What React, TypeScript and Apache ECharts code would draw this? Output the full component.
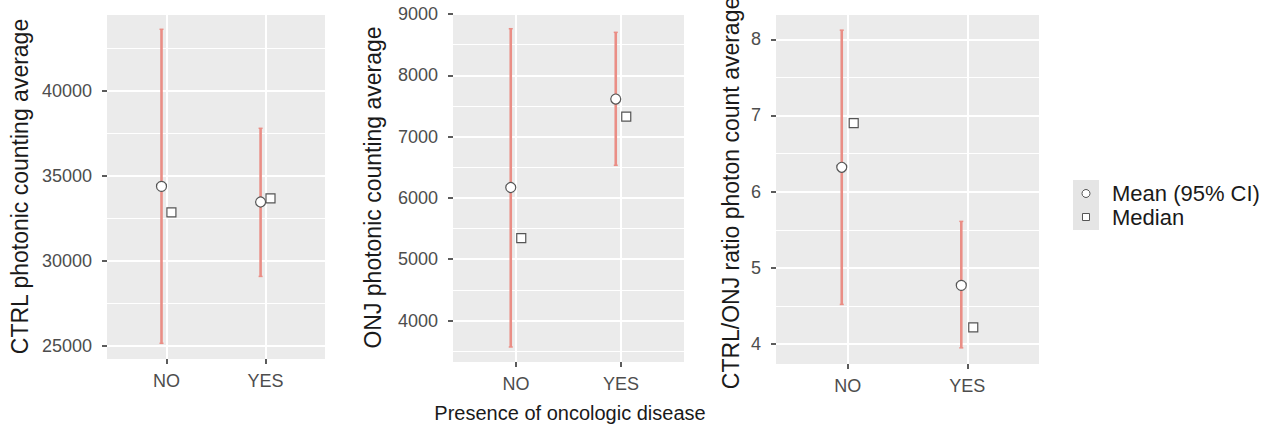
import React, { useEffect, useRef } from "react";
import * as echarts from "echarts";

// ---------- data ----------
const categories = ["NO", "YES"];

const ctrlMean = [34371, 33453];
const ctrlMedian = [32841, 33665];
const ctrlLow = [25141, 29076];
const ctrlHigh = [43612, 37788];
const ctrlTicks = [25000, 30000, 35000, 40000];
const ctrlMinor = [27500, 32500, 37500, 42500];
const ctrlRange = [24218, 44453];

const onjMean = [6170, 7613];
const onjMedian = [5343, 7325];
const onjLow = [3569, 6532];
const onjHigh = [8760, 8701];
const onjTicks = [4000, 5000, 6000, 7000, 8000, 9000];
const onjMinor = [3500, 4500, 5500, 6500, 7500, 8500];
const onjRange = [3324, 9000];

const ratioMean = [6.32, 4.77];
const ratioMedian = [6.9, 4.22];
const ratioLow = [4.52, 3.95];
const ratioHigh = [8.12, 5.61];
const ratioTicks = [4, 5, 6, 7, 8];
const ratioMinor = [4.5, 5.5, 6.5, 7.5];
const ratioRange = [3.738, 8.319];

const yTitles = [
  "CTRL photonic counting average",
  "ONJ photonic counting average",
  "CTRL/ONJ ratio photon count average",
];
const xTitle = "Presence of oncologic disease";
const legendLabels = ["Mean (95% CI)", "Median"];

// ---------- style ----------
const FONT = "Liberation Sans, Arial, Helvetica, sans-serif";
const ERR = "#EA8E86";
const PANEL_BG = "#EBEBEB";
const TICK_COLOR = "#4D4D4D";
const MEAN_DODGE = -0.05;
const MEDIAN_DODGE = 0.05;

const panels = [
  { left: 107, top: 15, width: 218, height: 344, mean: ctrlMean, median: ctrlMedian, low: ctrlLow, high: ctrlHigh, ticks: ctrlTicks, minor: ctrlMinor, range: ctrlRange },
  { left: 453, top: 14, width: 231, height: 348, mean: onjMean, median: onjMedian, low: onjLow, high: onjHigh, ticks: onjTicks, minor: onjMinor, range: onjRange },
  { left: 776, top: 15, width: 263, height: 349, mean: ratioMean, median: ratioMedian, low: ratioLow, high: ratioHigh, ticks: ratioTicks, minor: ratioMinor, range: ratioRange },
];

const catPositions = categories.map((_, i) => i + 1);

function buildOption() {
  const grid: any[] = [];
  const xAxis: any[] = [];
  const yAxis: any[] = [];
  const series: any[] = [];

  panels.forEach((p, idx) => {
    grid.push({
      left: p.left,
      top: p.top,
      width: p.width,
      height: p.height,
      show: true,
      backgroundColor: PANEL_BG,
      borderWidth: 0,
    });
    xAxis.push({
      type: "value",
      gridIndex: idx,
      min: 0.4,
      max: categories.length + 0.6,
      axisLine: { show: false },
      splitLine: { show: false },
      axisTick: {
        show: true,
        customValues: catPositions,
        length: 5,
        lineStyle: { color: "#333", width: 1.6 },
      },
      axisLabel: {
        show: true,
        customValues: catPositions,
        formatter: (v: number) => categories[Math.round(v) - 1] ?? "",
        color: TICK_COLOR,
        fontSize: 18,
        fontFamily: FONT,
        margin: 13,
      },
    });
    yAxis.push({
      type: "value",
      gridIndex: idx,
      min: p.range[0],
      max: p.range[1],
      axisLine: { show: false },
      splitLine: { show: false },
      axisTick: {
        show: true,
        customValues: p.ticks,
        length: 5,
        lineStyle: { color: "#333", width: 1.6 },
      },
      axisLabel: {
        show: true,
        customValues: p.ticks,
        formatter: (v: number) => String(v),
        color: TICK_COLOR,
        fontSize: 18,
        fontFamily: FONT,
        margin: 15,
      },
    });

    // grid lines
    series.push({
      type: "scatter",
      xAxisIndex: idx,
      yAxisIndex: idx,
      data: [],
      silent: true,
      markLine: {
        silent: true,
        symbol: ["none", "none"],
        label: { show: false },
        z: 1,
        animation: false,
        emphasis: { disabled: true },
        lineStyle: { color: "#FFFFFF", type: "solid" },
        data: [
          ...p.ticks.map((v) => ({ yAxis: v, lineStyle: { width: 2, color: "#fff", type: "solid" } })),
          ...p.minor.map((v) => ({ yAxis: v, lineStyle: { width: 1, color: "#fff", type: "solid" } })),
          ...catPositions.map((v) => ({ xAxis: v, lineStyle: { width: 2, color: "#fff", type: "solid" } })),
        ],
      },
    });

    // error bars
    series.push({
      type: "custom",
      xAxisIndex: idx,
      yAxisIndex: idx,
      z: 2,
      silent: true,
      encode: { x: 0, y: [1, 2] },
      data: p.low.map((l, i) => [catPositions[i] + MEAN_DODGE, l, p.high[i]]),
      renderItem: (params: any, api: any) => {
        const x = api.value(0);
        const lo = api.coord([x, api.value(1)]);
        const hi = api.coord([x, api.value(2)]);
        const cap = 2;
        return {
          type: "group",
          children: [
            { type: "line", shape: { x1: lo[0], y1: lo[1], x2: hi[0], y2: hi[1] }, style: { stroke: ERR, lineWidth: 2.6 } },
            { type: "line", shape: { x1: lo[0] - cap, y1: lo[1], x2: lo[0] + cap, y2: lo[1] }, style: { stroke: ERR, lineWidth: 1.5 } },
            { type: "line", shape: { x1: hi[0] - cap, y1: hi[1], x2: hi[0] + cap, y2: hi[1] }, style: { stroke: ERR, lineWidth: 1.5 } },
          ],
        };
      },
    });

    // means
    series.push({
      type: "scatter",
      xAxisIndex: idx,
      yAxisIndex: idx,
      z: 3,
      symbol: "circle",
      symbolSize: 10,
      itemStyle: { color: "#FFFFFF", borderColor: "#555555", borderWidth: 1.2, opacity: 1 },
      data: p.mean.map((v, i) => [catPositions[i] + MEAN_DODGE, v]),
    });
    // medians
    series.push({
      type: "scatter",
      xAxisIndex: idx,
      yAxisIndex: idx,
      z: 3,
      symbol: "rect",
      symbolSize: 9,
      itemStyle: { color: "#FFFFFF", borderColor: "#555555", borderWidth: 1.2, opacity: 1 },
      data: p.median.map((v, i) => [catPositions[i] + MEDIAN_DODGE, v]),
    });
  });

  const titleX = [20, 373, 731];
  const titleY = [186.5, 187.5, 193];

  const graphic: any[] = [
    ...yTitles.map((t, i) => ({
      type: "text",
      x: titleX[i],
      y: titleY[i],
      rotation: Math.PI / 2,
      style: {
        text: t,
        fontSize: 23,
        fontFamily: FONT,
        fill: "#1A1A1A",
        align: "center",
        verticalAlign: "middle",
      },
    })),
    {
      type: "text",
      x: 570,
      y: 413,
      style: {
        text: xTitle,
        fontSize: 20,
        fontFamily: FONT,
        fill: "#1A1A1A",
        align: "center",
        verticalAlign: "middle",
      },
    },
    // legend
    { type: "rect", x: 1073, y: 180, shape: { width: 26, height: 50 }, style: { fill: "#E5E5E5" } },
    { type: "circle", x: 1086, y: 193.5, shape: { r: 4 }, style: { fill: "#FFFFFF", stroke: "#555555", lineWidth: 1 } },
    { type: "rect", x: 1082.5, y: 213.5, shape: { width: 7, height: 7 }, style: { fill: "#FFFFFF", stroke: "#555555", lineWidth: 1 } },
    ...legendLabels.map((t, i) => ({
      type: "text",
      x: 1112,
      y: 193 + i * 24,
      style: {
        text: t,
        fontSize: 22,
        fontFamily: FONT,
        fill: "#1A1A1A",
        align: "left",
        verticalAlign: "middle",
      },
    })),
  ];

  return {
    animation: false,
    backgroundColor: "#FFFFFF",
    grid,
    xAxis,
    yAxis,
    series,
    graphic,
  };
}

export default function App() {
  const ref = useRef<HTMLDivElement>(null);
  useEffect(() => {
    document.body.style.margin = "0";
    if (!ref.current) return;
    const chart = echarts.init(ref.current, undefined, { renderer: "svg" });
    chart.setOption(buildOption() as any);
    return () => chart.dispose();
  }, []);
  return <div ref={ref} style={{ width: 1272, height: 426 }} />;
}
